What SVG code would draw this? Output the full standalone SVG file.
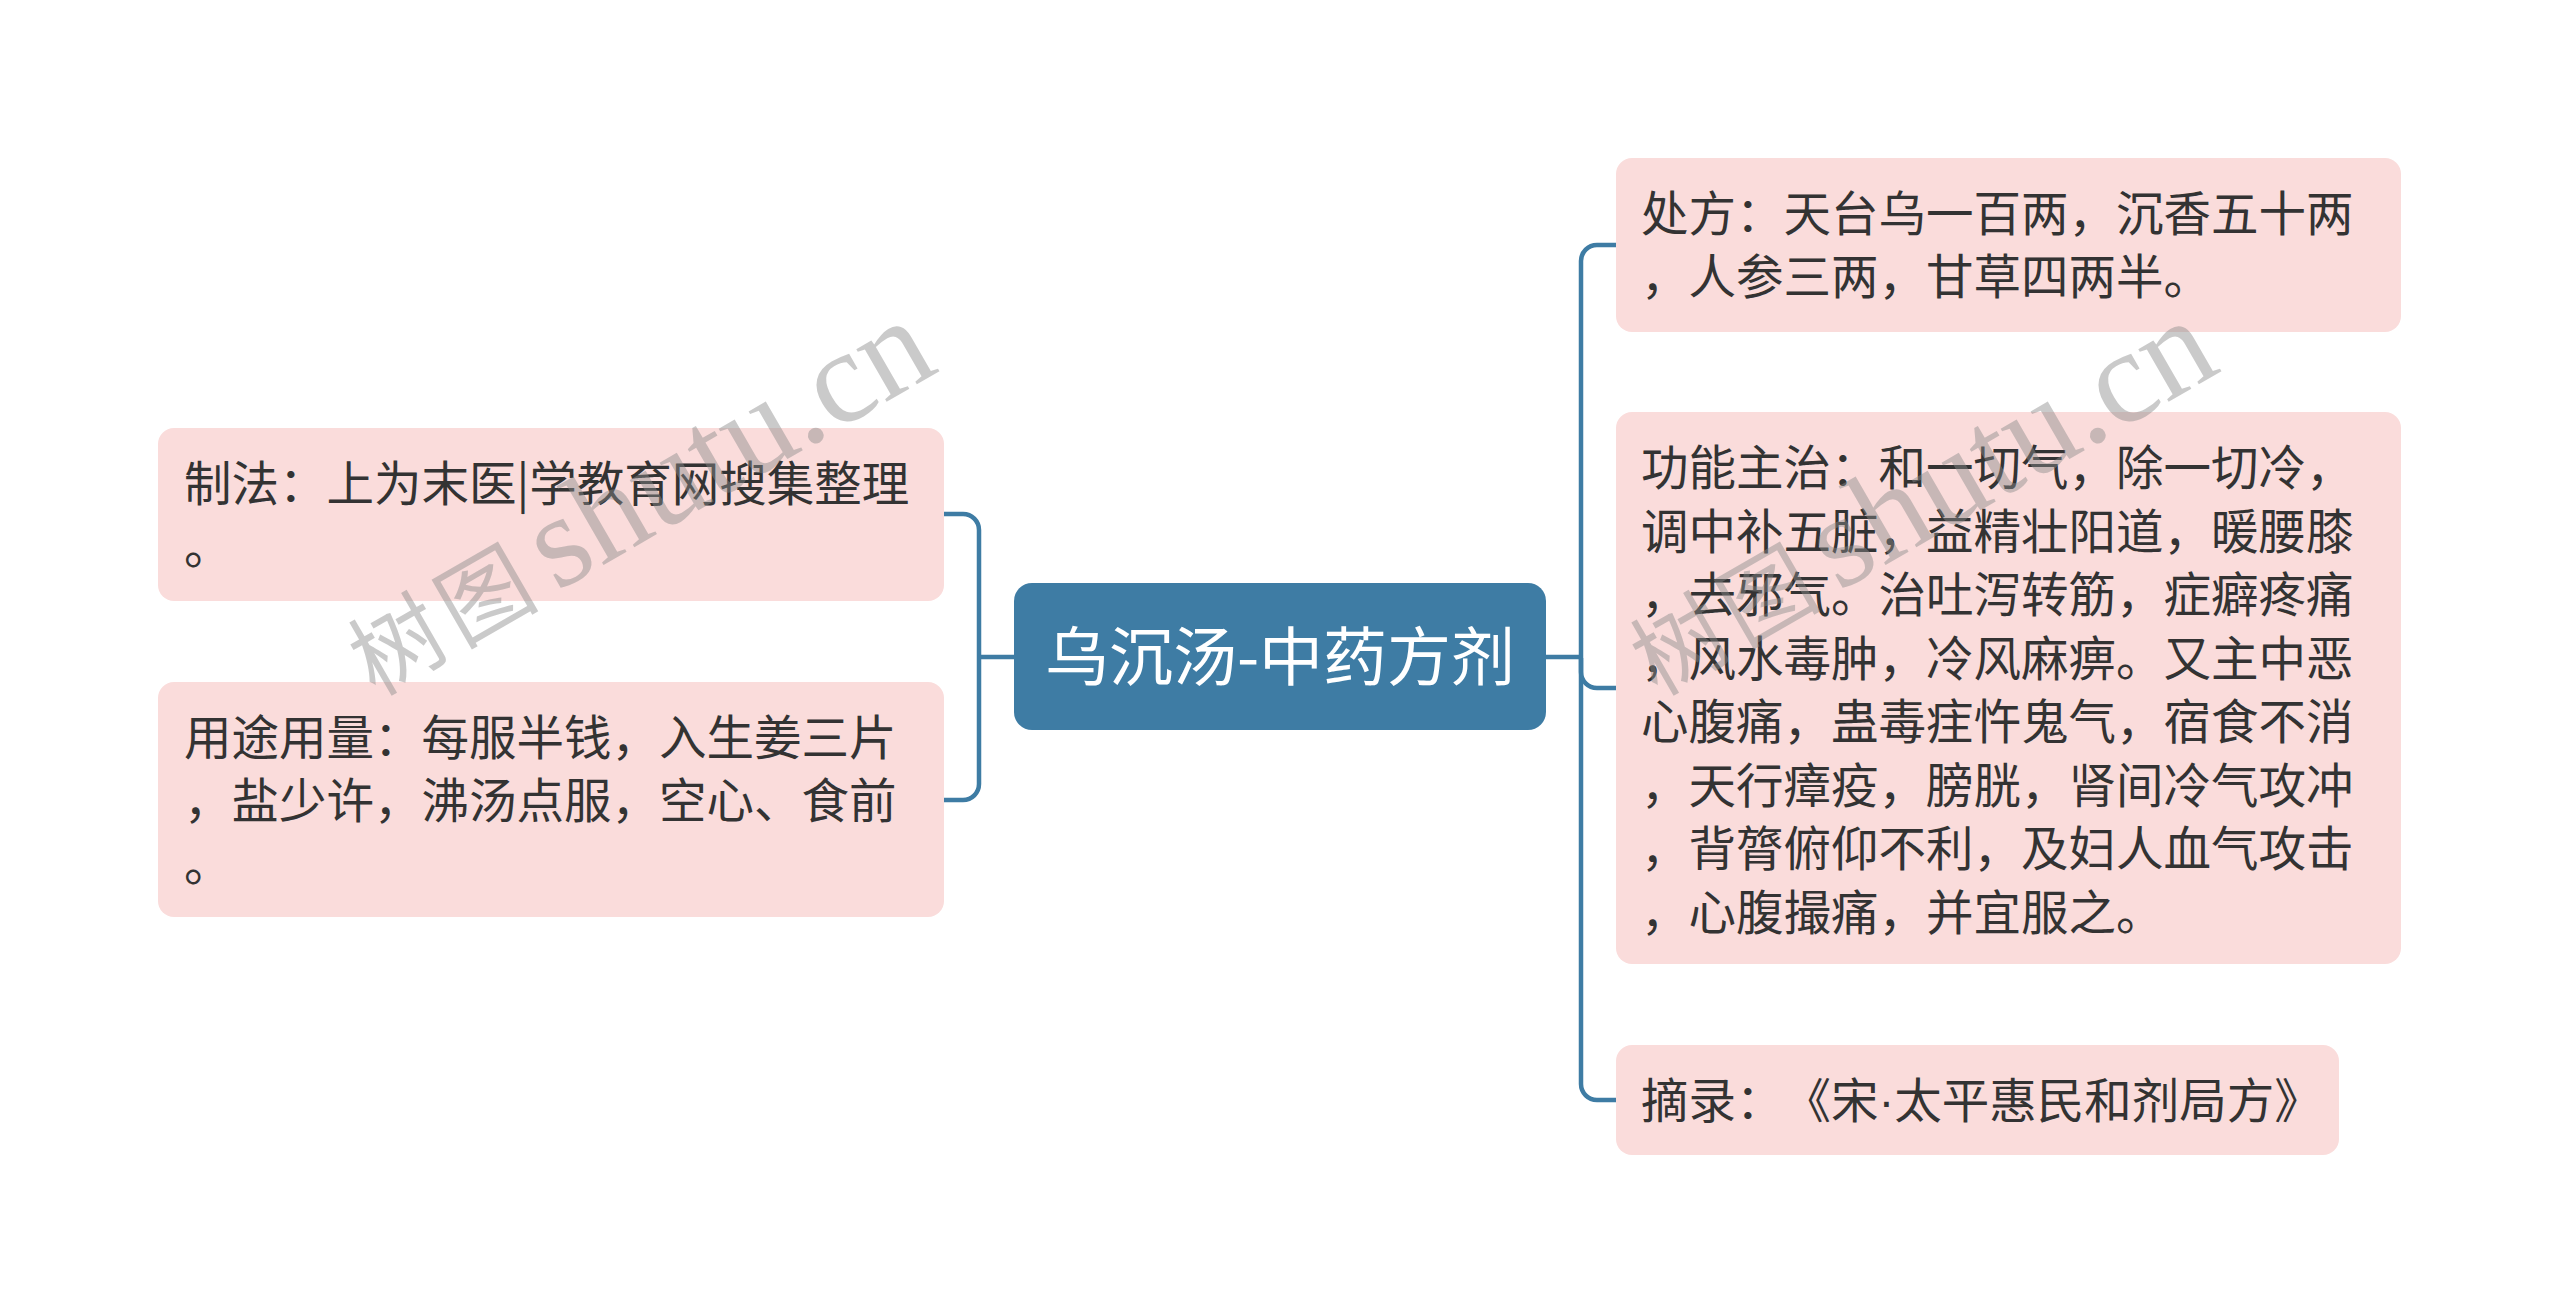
<svg xmlns="http://www.w3.org/2000/svg" width="2560" height="1314" viewBox="0 0 2560 1314">
<defs>
<style>
.bg{fill:#ffffff}
.leaf{fill:#FADCDB}
.root{fill:#3E7CA4}
.t{font-family:"Noto Sans CJK SC","Noto Sans",sans-serif;font-size:47.5px;fill:#333333;text-spacing-trim:space-all}
.rt{font-family:"Noto Sans CJK SC","Noto Sans",sans-serif;font-size:64px;fill:#ffffff;text-anchor:middle}
.dot{font-family:"Liberation Sans",sans-serif}
.c{fill:none;stroke:#3E7CA4;stroke-width:4.5;stroke-linecap:butt}
.wm{fill:#8a8a8a;fill-opacity:0.45}
.wmc{font-family:"Noto Sans CJK SC",serif;font-size:92px}
.wml{font-family:"Liberation Serif",serif;font-size:132px}
</style>
</defs>
<rect class="bg" x="0" y="0" width="2560" height="1314"/>
<g id="connectors">
<path class="c" d="M1014,657 H979"/>
<path class="c" d="M944,514 H963 A16,16 0 0 1 979,530 V784 A16,16 0 0 1 963,800 H944"/>
<path class="c" d="M1546,657 H1581"/>
<path class="c" d="M1616,245 H1597 A16,16 0 0 0 1581,261 V1084 A16,16 0 0 0 1597,1100 H1616"/>
<path class="c" d="M1581,658 V672 A16,16 0 0 0 1597,688 H1616"/>
</g>
<g id="root">
<rect class="root" x="1014" y="583" width="532" height="147" rx="18"/>
<text class="rt" x="1280" y="680">乌沉汤-中药方剂</text>
</g>
<g id="node-zhifa">
<rect class="leaf" x="158" y="428" width="786" height="173" rx="16"/>
<text class="t" x="184" y="501">制法：上为末医|学教育网搜集整理</text>
<text class="t" x="184" y="564">。</text>
</g>
<g id="node-yongtu">
<rect class="leaf" x="158" y="682" width="786" height="235" rx="16"/>
<text class="t" x="184" y="755">用途用量：每服半钱，入生姜三片</text>
<text class="t" x="184" y="818">，盐少许，沸汤点服，空心、食前</text>
<text class="t" x="184" y="881">。</text>
</g>
<g id="node-chufang">
<rect class="leaf" x="1616" y="158" width="785" height="174" rx="16"/>
<text class="t" x="1641" y="231">处方：天台乌一百两，沉香五十两</text>
<text class="t" x="1641" y="294">，人参三两，甘草四两半。</text>
</g>
<g id="node-gongneng">
<rect class="leaf" x="1616" y="412" width="785" height="552" rx="16"/>
<text class="t" x="1641" y="485">功能主治：和一切气，除一切冷，</text>
<text class="t" x="1641" y="548.5">调中补五脏，益精壮阳道，暖腰膝</text>
<text class="t" x="1641" y="612">，去邪气。治吐泻转筋，症癖疼痛</text>
<text class="t" x="1641" y="675.5">，风水毒肿，冷风麻痹。又主中恶</text>
<text class="t" x="1641" y="739">心腹痛，蛊毒疰忤鬼气，宿食不消</text>
<text class="t" x="1641" y="802.5">，天行瘴疫，膀胱，肾间冷气攻冲</text>
<text class="t" x="1641" y="866">，背膂俯仰不利，及妇人血气攻击</text>
<text class="t" x="1641" y="929.5">，心腹撮痛，并宜服之。</text>
</g>
<g id="node-zhailu">
<rect class="leaf" x="1616" y="1045" width="723" height="110" rx="16"/>
<text class="t" x="1641" y="1118">摘录：《宋<tspan class="dot">·</tspan>太平惠民和剂局方》</text>
</g>
<g id="watermark" class="wm">
<text transform="translate(375,697) rotate(-30)"><tspan class="wmc" x="0" y="0">树</tspan><tspan class="wmc" x="100" y="0">图</tspan><tspan class="wml" x="210" y="0">shutu.cn</tspan></text>
<text transform="translate(1657,697) rotate(-30)"><tspan class="wmc" x="0" y="0">树</tspan><tspan class="wmc" x="100" y="0">图</tspan><tspan class="wml" x="210" y="0">shutu.cn</tspan></text>
</g>
</svg>
